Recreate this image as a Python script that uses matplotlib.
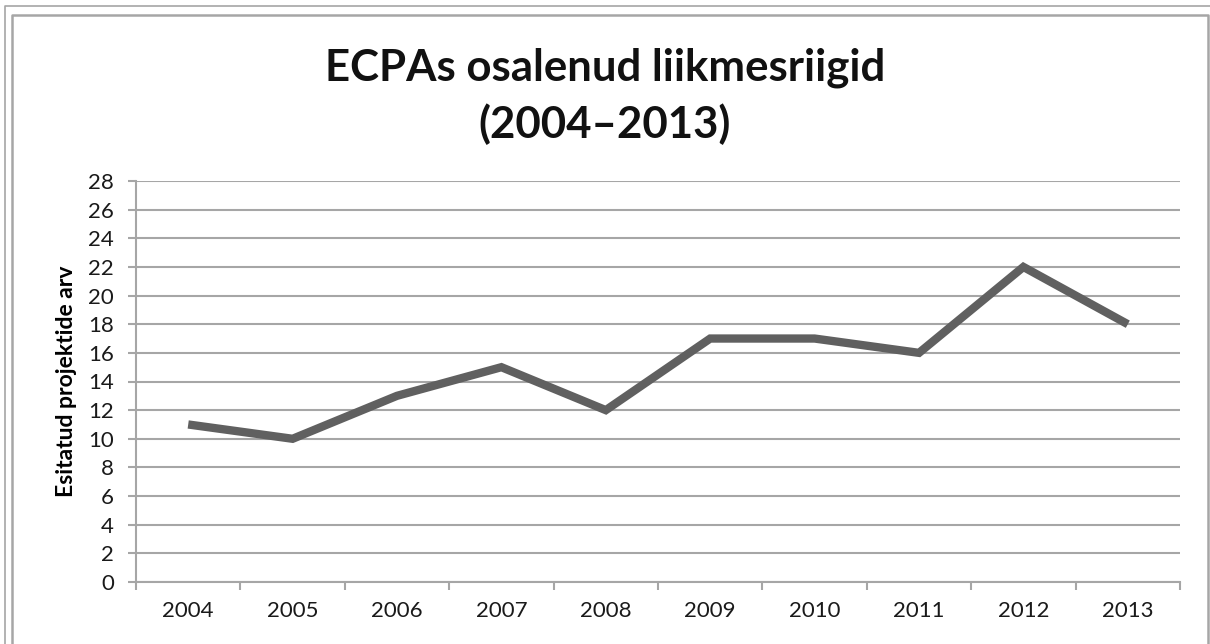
import matplotlib
matplotlib.use("Agg")
import matplotlib.pyplot as plt
from matplotlib.lines import Line2D
import numpy as np

years = ["2004", "2005", "2006", "2007", "2008", "2009", "2010", "2011", "2012", "2013"]
projects = [11, 10, 13, 15, 12, 17, 17, 16, 22, 18]
y_ticks = list(range(0, 29, 2))

plt.rcParams["font.family"] = ["Lato", "DejaVu Sans"]

W, H = 1210, 644
fig = plt.figure(figsize=(W / 100, H / 100), dpi=100, facecolor="white")

# outer and inner frames (pixel coords -> figure fraction)
def px(x, y):
    return x / W, 1 - y / H

grey = "#a6a6a6"
for pts, lw in [([(5, 700), (5, 6), (1300, 6)], 1.2),
                ([(12, 700), (12, 15), (1208, 15), (1208, 700)], 1.8)]:
    xs, ys = zip(*[px(*p) for p in pts])
    fig.add_artist(Line2D(xs, ys, color=grey, lw=lw, transform=fig.transFigure))

ax = fig.add_axes([136 / W, 1 - 582 / H, (1180 - 136) / W, (582 - 181) / H])

x = np.arange(len(years))
ax.plot(x, projects, color="#606060", lw=6, solid_joinstyle="miter", solid_capstyle="butt", zorder=3)

ax.set_xlim(-0.5, len(years) - 0.5)
ax.set_ylim(0, 28)
ax.set_yticks(y_ticks)
ax.set_yticklabels([str(v) for v in y_ticks])
ax.set_xticks(np.arange(-0.5, len(years), 1.0))
ax.set_xticklabels([])
ax.set_xticks(x, minor=True)
ax.set_xticklabels(years, minor=True)

ax.grid(axis="y", color=grey, lw=1.5)
ax.set_axisbelow(True)
for side in ["top", "right"]:
    ax.spines[side].set_visible(False)
for side in ["left", "bottom"]:
    ax.spines[side].set_color(grey)
    ax.spines[side].set_linewidth(1.5)

ax.tick_params(axis="y", which="major", length=6, width=1.5, color=grey,
               labelsize=16, labelcolor="#1a1a1a", pad=10)
ax.tick_params(axis="x", which="major", length=6, width=1.5, color=grey)
ax.tick_params(axis="x", which="minor", length=0, labelsize=16, labelcolor="#1a1a1a", pad=14)

ax.set_ylabel("Esitatud projektide arv", fontsize=16.5, fontweight="bold", labelpad=8)

fig.text(0.5, 1 - 68 / H, "ECPAs osalenud liikmesriigid", ha="center", va="center",
         fontsize=31.5, fontweight="bold", color="#111111")
fig.text(0.5, 1 - 124 / H, "(2004\u20132013)", ha="center", va="center",
         fontsize=31.5, fontweight="bold", color="#111111")

fig.savefig("out.png", dpi=100, facecolor="white")
